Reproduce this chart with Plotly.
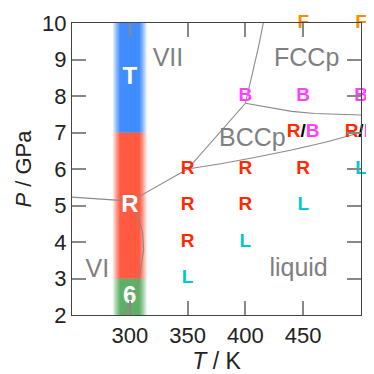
import plotly.graph_objects as go

# ---------------- data ----------------
band_T = 300
band_low = [2, 3, 7]
band_high = [3, 7, 10]
band_label = ["6", "R", "T"]
band_label_P = [2.5, 5.0, 8.5]
band_color = ["40,150,50", "255,35,0", "0,102,255"]

obs_T = [350, 350, 350, 350, 400, 400, 400, 400, 450, 450, 450, 450, 450, 500, 500, 500, 500]
obs_P = [6, 5, 4, 3, 8, 6, 5, 4, 10, 8, 7, 6, 5, 10, 8, 7, 6]
obs_phase = ["R", "R", "R", "L", "B", "R", "R", "L", "F", "B", "R/B", "R", "L", "F", "B", "R/B", "L"]

b1_T = [250, 301]
b1_P = [5.23, 5.12]
b2_T = [301, 350, 400, 406, 411, 415.5]
b2_P = [5.12, 6.0, 7.8, 8.6, 9.3, 10.0]
b3_T = [400, 420, 440, 460, 480, 500]
b3_P = [7.8, 7.68, 7.58, 7.52, 7.49, 7.48]
b4_T = [350, 380, 410, 440, 470, 500]
b4_P = [6.0, 6.15, 6.33, 6.52, 6.74, 7.0]
b5_T = [295, 302, 308, 312, 311, 307, 301]
b5_P = [2.0, 2.5, 2.96, 3.78, 4.28, 4.7, 5.12]

region_name = ["VII", "FCCp", "BCCp", "liquid", "VI"]
region_T = [333, 453, 406, 446, 272]
region_P = [9.0, 9.0, 6.8, 3.25, 3.2]

phase_color = {"R": "#ff2a00", "B": "#ff40ff", "L": "#00c8d2", "F": "#ff8a00"}

fig = go.Figure()
shapes = []
core, edge, step = 8.0, 15.0, 0.5
for lo, hi, col in zip(band_low, band_high, band_color):
    n = int(edge / step)
    for i in range(-n, n):
        t0 = band_T + i * step
        t1 = t0 + step
        d = abs((t0 + t1) / 2 - band_T)
        a = 1.0 if d <= core else max(0.0, (edge - d) / (edge - core))
        if a <= 0:
            continue
        shapes.append(dict(type="rect", xref="x", yref="y", x0=t0, x1=t1, y0=lo, y1=hi,
                           fillcolor=f"rgba({col},{a:.3f})", line=dict(width=0), layer="below"))

for bt, bp in [(b1_T, b1_P), (b2_T, b2_P), (b3_T, b3_P), (b4_T, b4_P), (b5_T, b5_P)]:
    fig.add_trace(go.Scatter(x=bt, y=bp, mode="lines", line=dict(color="#8a8a8a", width=1.1),
                             hoverinfo="skip", showlegend=False))

fig.add_trace(go.Scatter(x=[band_T] * len(band_label), y=band_label_P, mode="text",
                         text=[f"<b>{s}</b>" for s in band_label],
                         textfont=dict(color="white", size=24, family="Arial, Liberation Sans"),
                         showlegend=False, cliponaxis=False))

fig.add_trace(go.Scatter(x=region_T, y=region_P, mode="text", text=region_name,
                         textfont=dict(color="#7f7f7f", size=25, family="Arial, Liberation Sans"),
                         showlegend=False, cliponaxis=False))


def fmt(p):
    parts = p.split("/")
    out = [f"<span style='color:{phase_color[s]}'>{s}</span>" for s in parts]
    return "<b>" + "<span style='color:black'>/</span>".join(out) + "</b>"


fig.add_trace(go.Scatter(x=obs_T, y=obs_P, mode="text", text=[fmt(p) for p in obs_phase],
                         textfont=dict(size=19, family="Arial, Liberation Sans", color="black"),
                         showlegend=False, cliponaxis=False))

font_fam = "Arial, Liberation Sans"

fig.update_layout(
    width=366, height=366,
    margin=dict(l=64, r=13, t=15, b=59),
    plot_bgcolor="white", paper_bgcolor="white",
    shapes=shapes,
)
fig.update_xaxes(range=[250, 500], tickmode="array", tickvals=[300, 350, 400, 450],
                 showline=True, linecolor="#444", linewidth=1.2, mirror="allticks",
                 ticks="inside", ticklen=14, tickcolor="#888", tickwidth=1.5,
                 showgrid=False, zeroline=False, automargin=False,
                 tickfont=dict(size=22, color="#222", family=font_fam),
                 title=dict(text="<i>T</i> / K", font=dict(size=23, color="#222", family=font_fam), standoff=8))
fig.update_yaxes(range=[2, 10], tickmode="array", tickvals=list(range(2, 11)),
                 showline=True, linecolor="#444", linewidth=1.2, mirror="allticks",
                 ticks="inside", ticklen=14, tickcolor="#888", tickwidth=1.5,
                 showgrid=False, zeroline=False, automargin=False,
                 tickfont=dict(size=22, color="#222", family=font_fam),
                 title=dict(text="<i>P</i> / GPa", font=dict(size=22, color="#222", family=font_fam), standoff=4))

fig.write_html("out.html")
